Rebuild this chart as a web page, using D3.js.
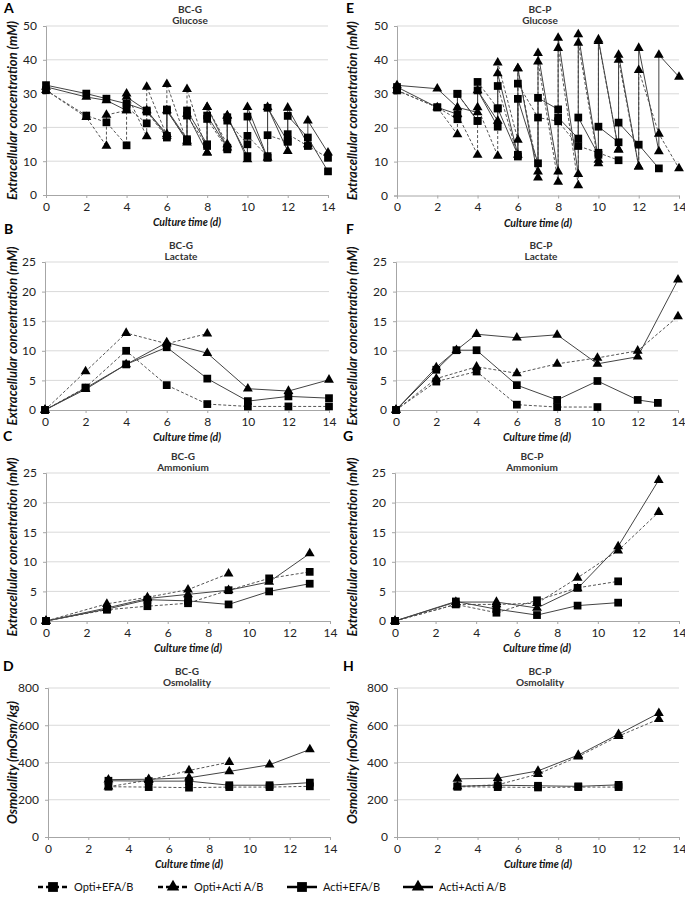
<!DOCTYPE html>
<html><head><meta charset="utf-8">
<script src="https://cdn.jsdelivr.net/npm/d3@7"></script>
<style>body{margin:0;background:#fff} text{font-family:Lato,"Open Sans",sans-serif}</style>
</head><body><svg id="c" width="685" height="907"></svg>
<script>
// ---------- DATA ----------
const xTicks = [0, 2, 4, 6, 8, 10, 12, 14];
const glucTicks = [0, 10, 20, 30, 40, 50];
const concTicks = [0, 5, 10, 15, 20, 25];
const osmTicks = [0, 200, 400, 600, 800];
const seriesNames = ["Opti+EFA/B", "Opti+Acti A/B", "Acti+EFA/B", "Acti+Acti A/B"];

// A: BC-G glucose  [day, mM]
const gluG_optiEFA = [[0,31],[2,23.5],[3,21.5],[4,14.7],[4,26],[5,21.2],[5,24.7],[6,17],[6,25],[7,16],[7,23.5],[8,14.5],[8,22.5],[9,13.5],[9,22],[10,15],[10,17.5],[11,11.5],[11,17.7],[12,15.8],[12,18],[13,14.5],[14,11]];
const gluG_optiActi = [[0,31],[2,23],[3,14.5],[3,23.7],[4,25],[4,30],[5,17.3],[5,32],[6,17.5],[6,32.8],[7,15.5],[7,31.3],[8,12.5],[8,26],[9,15],[9,23.5]];
const gluG_actiEFA = [[0,32.5],[2,30],[3,28.5],[4,27],[5,25],[6,17.5],[6,25.3],[7,16.5],[7,25],[8,15],[8,23.5],[9,14],[9,23],[10,11.5],[10,23.2],[11,11],[11,25.8],[12,15.8],[12,23.4],[13,17],[14,7]];
const gluG_actiActi = [[0,32],[2,29],[3,28],[4,25],[4,29],[5,25],[6,18],[6,25],[7,16],[7,24],[8,12.5],[8,26],[9,14],[9,23.5],[10,10.5],[10,26],[11,11],[11,26],[12,13],[12,25.8],[13,15],[13,22],[14,12.5]];

// E: BC-P glucose
const gluP_optiEFA = [[0,31],[2,26],[3,22.5],[3,30],[4,22],[4,33.5],[5,25.7],[5,32.3],[6,11.5],[6,33],[7,23],[8,21.9],[9,14.6],[10,12.6],[11,10.4]];
const gluP_optiActi = [[0,31],[2,26],[3,18],[3,24],[4,12],[4,26],[5,11.7],[5,39.2],[6,16.4],[6,37.5],[7,7],[7,39.5],[8,4],[8,43.5],[9,3],[9,45],[10,9.5],[10,45.5],[11,13.5],[11,40],[12,8.5],[12,37],[13,18.2],[14,8]];
const gluP_actiEFA = [[0,32],[2,26],[3,24],[3,30],[4,22],[4,31],[5,20.3],[5,25.7],[6,12],[6,28.5],[7,9.5],[7,28.8],[8,25.4],[8,23],[9,16.8],[9,23],[10,12],[10,20.3],[11,15.7],[11,21.5],[12,15],[13,8]];
const gluP_actiActi = [[0,32.5],[2,31.5],[3,26],[4,24.5],[4,31],[5,22],[5,36],[6,12],[6,37.5],[7,5.3],[7,42],[8,7],[8,46.5],[9,6.3],[9,47.5],[10,10.5],[10,46],[11,13.5],[11,41.5],[12,8.5],[12,43.5],[13,13],[13,41.5],[14,35]];

// B: BC-G lactate
const lacG_optiEFA = [[0,0],[2,3.8],[4,10],[6,4.2],[8,1.0],[10,0.6],[12,0.6],[14,0.6]];
const lacG_optiActi = [[0,0],[2,6.5],[4,13],[6,11.2],[8,12.9]];
const lacG_actiEFA = [[0,0],[2,3.7],[4,7.7],[6,10.6],[8,5.3],[10,1.5],[12,2.3],[14,2.0]];
const lacG_actiActi = [[0,0],[2,3.5],[4,7.7],[6,11.4],[8,9.6],[10,3.6],[12,3.2],[14,5.1]];

// F: BC-P lactate
const lacP_optiEFA = [[0,0],[2,4.8],[4,6.5],[6,0.9],[8,0.5],[10,0.5]];
const lacP_optiActi = [[0,0],[2,5.3],[4,7.3],[6,6.2],[8,7.8],[10,8.8],[12,10],[14,15.8]];
const lacP_actiEFA = [[0,0],[2,6.8],[3,10.1],[4,10.1],[6,4.2],[8,1.7],[10,4.9],[12,1.7],[13,1.2]];
const lacP_actiActi = [[0,0],[2,7.2],[3,10.1],[4,12.8],[6,12.2],[8,12.7],[10,7.8],[12,9],[14,22]];

// C: BC-G ammonium
const ammG_optiEFA = [[0,0],[3,1.9],[5,2.5],[7,3.0],[9,5.2],[11,7.2],[13,8.3]];
const ammG_optiActi = [[0,0],[3,2.9],[5,4.0],[7,5.3],[9,8.0]];
const ammG_actiEFA = [[0,0],[3,2.0],[5,3.6],[7,3.4],[9,2.8],[11,5.0],[13,6.3]];
const ammG_actiActi = [[0,0],[3,2.2],[5,3.8],[7,4.5],[9,5.2],[11,6.6],[13,11.4]];

// G: BC-P ammonium
const ammP_optiEFA = [[0,0],[3,2.8],[5,1.4],[7,3.5],[9,5.6],[11,6.7]];
const ammP_optiActi = [[0,0],[3,2.8],[5,2.8],[7,3.0],[9,7.3],[11,11.9],[13,18.4]];
const ammP_actiEFA = [[0,0],[3,3.3],[5,2.0],[7,1.0],[9,2.6],[11,3.1]];
const ammP_actiActi = [[0,0],[3,3.2],[5,3.2],[7,2.2],[9,5.5],[11,12.6],[13,23.8]];

// D: BC-G osmolality
const osmG_optiEFA = [[3,270],[5,268],[7,265],[9,268],[11,268],[13,272]];
const osmG_optiActi = [[3,270],[5,305],[7,357],[9,402]];
const osmG_actiEFA = [[3,302],[5,300],[7,300],[9,278],[11,278],[13,292]];
const osmG_actiActi = [[3,308],[5,310],[7,318],[9,352],[11,388],[13,470]];

// H: BC-P osmolality
const osmP_optiEFA = [[3,270],[5,268],[7,266],[9,268],[11,268]];
const osmP_optiActi = [[3,272],[5,280],[7,338],[9,432],[11,542],[13,633]];
const osmP_actiEFA = [[3,272],[5,278],[7,275],[9,272],[11,280]];
const osmP_actiActi = [[3,312],[5,316],[7,355],[9,440],[11,552],[13,665]];

// ---------- LAYOUT ----------
const concLabel = "Extracellular concentration (mM)";
const osmLabel = "Osmolality (mOsm/kg)";
const panels = [
  {L:"A", g:"BC-G", t:"Glucose", box:[46,328,26,195], ticks:glucTicks, yl:concLabel, s:[gluG_optiEFA,gluG_optiActi,gluG_actiEFA,gluG_actiActi], tc:190, lx:4, ly:13, ylx:13},
  {L:"E", g:"BC-P", t:"Glucose", box:[397,679,26,195.5], ticks:glucTicks, yl:concLabel, s:[gluP_optiEFA,gluP_optiActi,gluP_actiEFA,gluP_actiActi], tc:540, lx:346, ly:13, ylx:353},
  {L:"B", g:"BC-G", t:"Lactate", box:[45,329,262,410], ticks:concTicks, yl:concLabel, s:[lacG_optiEFA,lacG_optiActi,lacG_actiEFA,lacG_actiActi], tc:181, lx:4, ly:234, ylx:13},
  {L:"F", g:"BC-P", t:"Lactate", box:[396,678,262,410], ticks:concTicks, yl:concLabel, s:[lacP_optiEFA,lacP_optiActi,lacP_actiEFA,lacP_actiActi], tc:541, lx:346, ly:234, ylx:353},
  {L:"C", g:"BC-G", t:"Ammonium", box:[46,330,473,621], ticks:concTicks, yl:concLabel, s:[ammG_optiEFA,ammG_optiActi,ammG_actiEFA,ammG_actiActi], tc:183, lx:3, ly:441, ylx:13},
  {L:"G", g:"BC-P", t:"Ammonium", box:[395,679,473,621], ticks:concTicks, yl:concLabel, s:[ammP_optiEFA,ammP_optiActi,ammP_actiEFA,ammP_actiActi], tc:532, lx:343, ly:441, ylx:353},
  {L:"D", g:"BC-G", t:"Osmolality", box:[48,330,688,837], ticks:osmTicks, yl:osmLabel, s:[osmG_optiEFA,osmG_optiActi,osmG_actiEFA,osmG_actiActi], tc:187, lx:3, ly:671, ylx:13},
  {L:"H", g:"BC-P", t:"Osmolality", box:[397,679,688,837], ticks:osmTicks, yl:osmLabel, s:[osmP_optiEFA,osmP_optiActi,osmP_actiEFA,osmP_actiActi], tc:540, lx:343, ly:671, ylx:353}
];
const styles = [
  {dash:"3,2", sym:d3.symbolSquare, size:60},
  {dash:"3,2", sym:d3.symbolTriangle, size:42},
  {dash:null, sym:d3.symbolSquare, size:60},
  {dash:null, sym:d3.symbolTriangle, size:42}
];

const svg = d3.select("#c");
svg.append("rect").attr("width",685).attr("height",907).attr("fill","#fff");

panels.forEach(p => {
  const [x0,x1,y0,y1] = p.box;
  const ymax = p.ticks[p.ticks.length-1];
  const x = d3.scaleLinear().domain([0,14]).range([x0,x1]);
  const y = d3.scaleLinear().domain([0,ymax]).range([y1,y0]);
  const g = svg.append("g");

  g.selectAll(".grid").data(p.ticks.filter(t=>t>0)).enter().append("line")
    .attr("x1",x0).attr("x2",x1).attr("y1",d=>y(d)).attr("y2",d=>y(d))
    .attr("stroke","#d9d9d9").attr("stroke-width",1);

  const ya = g.append("g").attr("transform",`translate(${x0},0)`)
    .call(d3.axisLeft(y).tickValues(p.ticks).tickSize(3).tickPadding(6));
  const xa = g.append("g").attr("transform",`translate(0,${y1})`)
    .call(d3.axisBottom(x).tickValues(xTicks).tickSize(3).tickPadding(4));
  [ya,xa].forEach(a=>{
    a.select(".domain").attr("stroke","#a6a6a6");
    a.selectAll(".tick line").attr("stroke","#a6a6a6");
    a.selectAll("text").attr("font-size",12).attr("fill","#222").attr("font-family","Lato, sans-serif");
  });

  g.append("text").attr("x",p.tc).attr("y",y0-13).attr("text-anchor","middle")
    .attr("font-size",10).attr("font-weight","bold").attr("fill","#333").text(p.g);
  g.append("text").attr("x",p.tc).attr("y",y0-2).attr("text-anchor","middle")
    .attr("font-size",10).attr("font-weight","bold").attr("fill","#333").text(p.t);
  g.append("text").attr("x",p.lx).attr("y",p.ly).attr("font-size",14).attr("font-weight","bold")
    .attr("font-family","Liberation Sans, Arial, sans-serif").text(p.L);
  g.append("text").attr("transform",`translate(${p.ylx+4},${(y0+y1)/2}) rotate(-90)`)
    .attr("text-anchor","middle").attr("font-size",13).attr("font-weight","bold")
    .attr("font-style","italic").attr("fill","#111").text(p.yl);
  g.append("text").attr("x",(x0+x1)/2).attr("y",y1+31).attr("text-anchor","middle")
    .attr("font-size",10.5).attr("font-weight","bold").attr("font-style","italic").attr("fill","#111")
    .text("Culture time (d)");

  const line = d3.line().x(d=>x(d[0])).y(d=>y(d[1]));
  p.s.forEach((data,i)=>{
    g.append("path").datum(data).attr("d",line).attr("fill","none")
      .attr("stroke", styles[i].dash ? "#555" : "#444").attr("stroke-width",1)
      .attr("stroke-dasharray",styles[i].dash);
  });
  p.s.forEach((data,i)=>{
    const sym = d3.symbol().type(styles[i].sym).size(styles[i].size);
    g.selectAll(null).data(data).enter().append("path")
      .attr("d",sym).attr("transform",d=>`translate(${x(d[0])},${y(d[1])})`)
      .attr("fill","#000");
  });
});

const legX = [38,158,287,403];
const lg = svg.append("g").attr("transform","translate(0,887)");
seriesNames.forEach((n,i)=>{
  const st = styles[i];
  const w = 30;
  lg.append("line").attr("x1",legX[i]).attr("x2",legX[i]+w).attr("y1",0).attr("y2",0)
    .attr("stroke","#000").attr("stroke-width",2.5).attr("stroke-dasharray",st.dash?"5,3":null);
  lg.append("path").attr("d",d3.symbol().type(st.sym).size(st.size*1.6))
    .attr("transform",`translate(${legX[i]+w/2},0)`).attr("fill","#000");
  lg.append("text").attr("x",legX[i]+w+6).attr("y",4).attr("font-size",11).attr("fill","#111").text(n);
});
</script></body></html>
